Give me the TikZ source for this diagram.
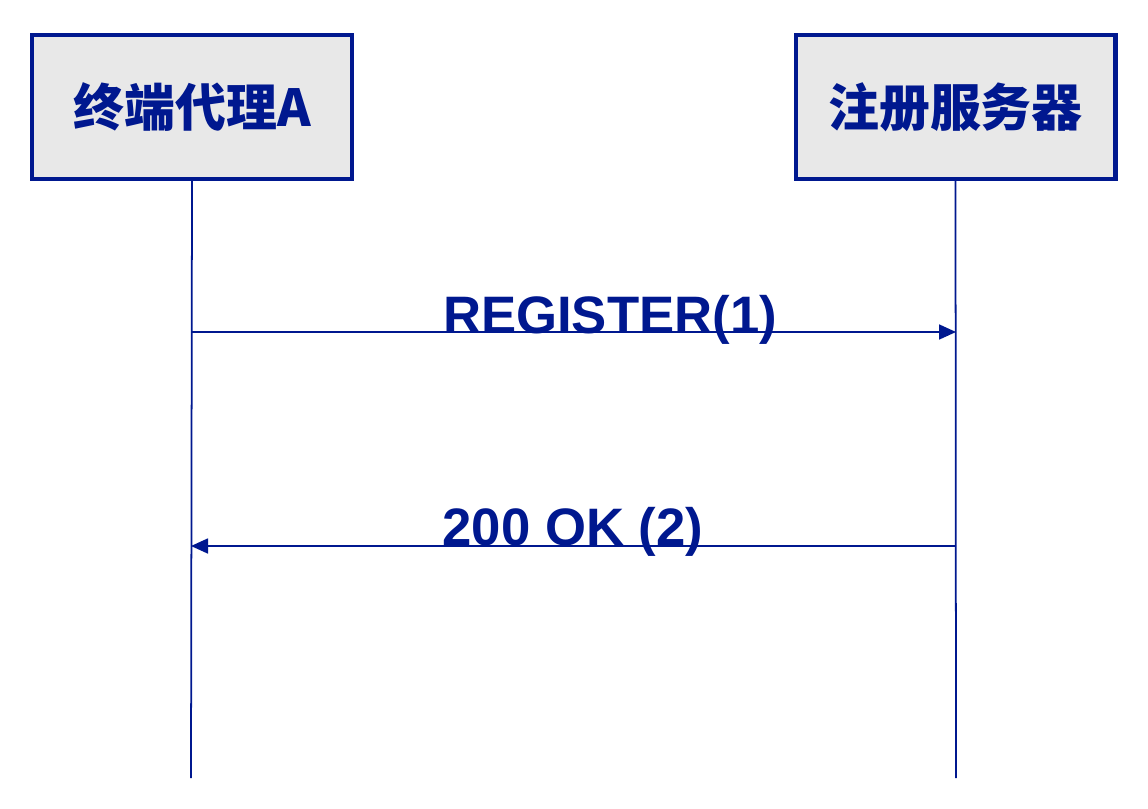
\documentclass[tikz,border=0pt]{standalone}
\usepackage{fontspec}
\setmainfont{Liberation Sans}
\newfontfamily\cjk{Noto Sans CJK SC}
\usetikzlibrary{arrows.meta}
\definecolor{sipblue}{RGB}{0,24,143}
\definecolor{boxgray}{RGB}{232,232,232}

\begin{document}
\begin{tikzpicture}[x=0.02cm, y=-0.02cm,
    agent/.style={draw=sipblue, line width=2.3pt, fill=boxgray,
        minimum width=6.4cm, minimum height=2.88cm,
        text=sipblue, font=\cjk\bfseries\fontsize{29}{34}\selectfont},
    life/.style={draw=sipblue, line width=1pt},
    msg/.style={draw=sipblue, line width=1pt, -{Triangle[length=0.34cm, width=0.3cm]}},
    lbl/.style={text=sipblue, anchor=base, inner sep=0pt,
        font=\bfseries\fontsize{30}{36}\selectfont}]
    \useasboundingbox (0,0) rectangle (1148,808);
    % agents
    \node[agent] (ua) at (192,107) {\raisebox{-0.06cm}{终端代理A}};
    \node[agent] (reg) at (955.5,107) {\raisebox{-0.06cm}{注册服务器}};
    % lifelines
    \coordinate (uaend) at (191,778);
    \coordinate (regend) at (956,778);
    \draw[life] (ua.south) -- (uaend);
    \draw[life] (reg.south) -- (regend);
    % messages
    \coordinate (m1a) at (191,332);
    \coordinate (m1b) at (956,332);
    \coordinate (m2a) at (956,546);
    \coordinate (m2b) at (191,546);
    \draw[msg] (m1a) -- (m1b);
    \draw[msg] (m2a) -- (m2b);
    \node[lbl] (l1) at (610,333) {REGISTER(1)};
    \node[lbl] (l2) at (573,545) {200 OK (2)};
\end{tikzpicture}
\end{document}
